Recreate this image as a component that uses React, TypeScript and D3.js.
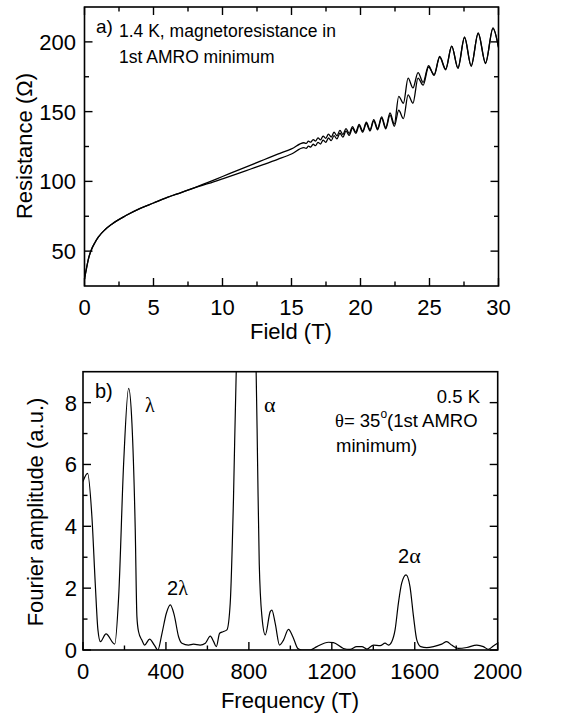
import React from 'react';
import * as d3 from 'd3';

// ---------- Panel a) magnetoresistance ----------
const baseField = [0, 0.15, 0.3, 0.5, 0.75, 1, 1.5, 2, 3, 4, 5, 6, 7, 8];
const baseRes = [30, 38, 45, 51, 56, 60, 65.5, 69.5, 75.5, 80.5, 84.5, 88.5, 92, 95.5];

const midField = [9, 10, 11, 12, 13, 14, 15];
const upMidRes = [99.5, 103.5, 107.5, 111.5, 115.5, 119.5, 123.3];
const downMidRes = [98.5, 101.8, 105.2, 108.7, 112.2, 115.8, 119.6];

const oscField = [15.90, 16.06, 16.23, 16.39, 16.57, 16.74, 16.92, 17.10, 17.29, 17.48, 17.68, 17.88, 18.08, 18.29, 18.51, 18.73, 18.95, 19.18, 19.42, 19.66, 19.90, 20.16, 20.42, 20.69, 20.96, 21.24, 21.53, 21.83, 22.14, 22.45, 22.77, 23.11, 23.45, 23.80, 24.17, 24.54, 24.93, 25.33, 25.74, 26.17, 26.61, 27.06, 27.54, 28.02, 28.53, 29.06, 29.60, 30.0];
const upOscRes = [127.7, 127.2, 128.8, 128.1, 130.0, 128.9, 131.2, 129.8, 132.5, 130.8, 133.8, 131.8, 135.2, 132.7, 136.5, 133.6, 137.8, 134.4, 139.2, 135.3, 140.8, 136.2, 142.4, 137.1, 144.3, 137.9, 146.3, 138.6, 149.0, 141.0, 161, 156, 174, 167, 178, 171, 183, 176, 189, 180, 197, 181, 203, 182.5, 206.5, 184.5, 210, 196];
const downOscRes = [124.2, 123.7, 125.2, 124.6, 126.6, 125.6, 128.0, 126.8, 129.6, 128.0, 131.1, 129.2, 132.8, 130.4, 134.5, 131.7, 136.2, 133.0, 138.2, 134.4, 139.9, 135.3, 141.5, 136.2, 143.4, 137.0, 145.3, 137.7, 147.5, 139.5, 151, 145, 162, 156, 174, 169, 182, 176.5, 189.5, 180.5, 197, 181.5, 203.5, 183, 206, 185, 209.5, 196];

const fieldTicks = [0, 5, 10, 15, 20, 25, 30];
const fieldMinor = [2.5, 7.5, 12.5, 17.5, 22.5, 27.5];
const resTicks = [50, 100, 150, 200];
const resMinor = [75, 125, 175];

// ---------- Panel b) Fourier spectrum ----------
const freq = [0, 22, 43, 59, 72, 84, 111, 153, 172, 196, 220, 236, 252, 260, 268, 284, 297, 321, 344, 361, 381, 402, 421, 440, 461, 477, 509, 533, 565, 590, 614, 630, 643, 659, 675, 694, 710, 726, 739, 790, 835, 842, 850, 863, 879, 903, 911, 927, 948, 967, 991, 1012, 1036, 1055, 1096, 1128, 1184, 1208, 1256, 1288, 1320, 1345, 1369, 1401, 1433, 1457, 1473, 1489, 1505, 1521, 1537, 1558, 1577, 1594, 1610, 1629, 1658, 1690, 1730, 1754, 1778, 1810, 1851, 1899, 1931, 1955, 1979, 2000];
const amp = [5.45, 5.71, 4.31, 2.16, 0.65, 0.27, 0.52, 0.19, 1.73, 6.04, 8.46, 7.33, 3.88, 1.08, 0.59, 0.32, 0.16, 0.35, 0.16, 0.0, 0.54, 1.19, 1.46, 1.13, 0.43, 0.22, 0.16, 0.19, 0.16, 0.22, 0.45, 0.27, 0.11, 0.54, 0.59, 0.65, 1.51, 4.96, 9.0, 14, 9.0, 6.04, 2.8, 1.08, 0.49, 1.24, 1.29, 0.86, 0.16, 0.32, 0.67, 0.43, 0.05, 0.0, 0.0, 0.11, 0.25, 0.24, 0.05, 0.02, 0.11, 0.11, 0.03, 0.16, 0.14, 0.22, 0.16, 0.27, 0.65, 1.51, 2.16, 2.43, 2.05, 1.08, 0.32, 0.11, 0.08, 0.11, 0.19, 0.27, 0.16, 0.05, 0.08, 0.16, 0.11, 0.02, 0.13, 0.22];

const freqTicks = [0, 400, 800, 1200, 1600, 2000];
const freqMinor = [200, 600, 1000, 1400, 1800];
const ampTicks = [0, 2, 4, 6, 8];
const ampMinor = [1, 3, 5, 7];

const SANS = '"Liberation Sans", Arial, sans-serif';
const SERIF = '"Liberation Serif", "DejaVu Serif", serif';

type Pt = [number, number];

function Frame({ x0, x1, y0, y1 }: { x0: number; x1: number; y0: number; y1: number }) {
  return <rect x={x0} y={y0} width={x1 - x0} height={y1 - y0} fill="none" stroke="#000" strokeWidth={1.6} />;
}

export default function App() {
  // Panel a
  const ax = d3.scaleLinear().domain([0, 30]).range([84.5, 498.5]);
  const ay = d3.scaleLinear().domain([25, 225]).range([286, 7]);
  const upPts: Pt[] = [
    ...baseField.map((f, i) => [f, baseRes[i]] as Pt),
    ...midField.map((f, i) => [f, upMidRes[i]] as Pt),
    ...oscField.map((f, i) => [f, upOscRes[i]] as Pt),
  ];
  const downPts: Pt[] = [
    ...baseField.map((f, i) => [f, baseRes[i]] as Pt),
    ...midField.map((f, i) => [f, downMidRes[i]] as Pt),
    ...oscField.map((f, i) => [f, downOscRes[i]] as Pt),
  ];
  const lineA = d3.line<Pt>().x(d => ax(d[0])).y(d => ay(d[1])).curve(d3.curveMonotoneX);

  // Panel b
  const bx = d3.scaleLinear().domain([0, 2000]).range([83, 497.7]);
  const by = d3.scaleLinear().domain([0, 9]).range([650, 371.7]);
  const fftPts: Pt[] = freq.map((f, i) => [f, amp[i]] as Pt);
  const lineB = d3.line<Pt>().x(d => bx(d[0])).y(d => by(d[1])).curve(d3.curveMonotoneX);

  const MAJ = 8;
  const MIN = 4.5;
  const tickStyle = { stroke: '#000', strokeWidth: 1.4 };

  return (
    <svg width={566} height={717} style={{ position: 'absolute', left: 0, top: 0, background: '#fff' }}>
      <rect x={0} y={0} width={566} height={717} fill="#fff" />
      <defs>
        <clipPath id="clipA">
          <rect x={ax(0)} y={ay(225)} width={ax(30) - ax(0)} height={ay(25) - ay(225)} />
        </clipPath>
        <clipPath id="clipB">
          <rect x={bx(0)} y={by(9)} width={bx(2000) - bx(0)} height={by(0) - by(9)} />
        </clipPath>
      </defs>

      {/* ---------- Panel a ---------- */}
      <g clipPath="url(#clipA)">
        <path d={lineA(downPts) || ''} fill="none" stroke="#000" strokeWidth={1.3} />
        <path d={lineA(upPts) || ''} fill="none" stroke="#000" strokeWidth={1.3} />
      </g>
      <Frame x0={ax(0)} x1={ax(30)} y0={ay(225)} y1={ay(25)} />
      {fieldTicks.map(t => (
        <g key={'fx' + t}>
          <line x1={ax(t)} x2={ax(t)} y1={ay(25)} y2={ay(25) - MAJ} {...tickStyle} />
          <line x1={ax(t)} x2={ax(t)} y1={ay(225)} y2={ay(225) + MAJ} {...tickStyle} />
          <text x={ax(t)} y={315} textAnchor="middle" fontFamily={SANS} fontSize={22}>{t}</text>
        </g>
      ))}
      {fieldMinor.map(t => (
        <g key={'fm' + t}>
          <line x1={ax(t)} x2={ax(t)} y1={ay(25)} y2={ay(25) - MIN} {...tickStyle} />
          <line x1={ax(t)} x2={ax(t)} y1={ay(225)} y2={ay(225) + MIN} {...tickStyle} />
        </g>
      ))}
      {resTicks.map(t => (
        <g key={'ry' + t}>
          <line x1={ax(0)} x2={ax(0) + MAJ} y1={ay(t)} y2={ay(t)} {...tickStyle} />
          <line x1={ax(30)} x2={ax(30) - MAJ} y1={ay(t)} y2={ay(t)} {...tickStyle} />
          <text x={76} y={ay(t) + 8} textAnchor="end" fontFamily={SANS} fontSize={22}>{t}</text>
        </g>
      ))}
      {resMinor.map(t => (
        <g key={'rm' + t}>
          <line x1={ax(0)} x2={ax(0) + MIN} y1={ay(t)} y2={ay(t)} {...tickStyle} />
          <line x1={ax(30)} x2={ax(30) - MIN} y1={ay(t)} y2={ay(t)} {...tickStyle} />
        </g>
      ))}
      <text x={291} y={339} textAnchor="middle" fontFamily={SANS} fontSize={22}>Field (T)</text>
      <text transform={`translate(32,146) rotate(-90)`} textAnchor="middle" fontFamily={SANS} fontSize={22}>Resistance (Ω)</text>
      <text x={96} y={33} fontFamily={SANS} fontSize={19}>a)</text>
      <text x={119} y={37} fontFamily={SANS} fontSize={17.5}>1.4 K, magnetoresistance in</text>
      <text x={119} y={63} fontFamily={SANS} fontSize={17.5}>1st AMRO minimum</text>

      {/* ---------- Panel b ---------- */}
      <g clipPath="url(#clipB)">
        <path d={lineB(fftPts) || ''} fill="none" stroke="#000" strokeWidth={1.2} />
      </g>
      <Frame x0={bx(0)} x1={bx(2000)} y0={by(9)} y1={by(0)} />
      {freqTicks.map(t => (
        <g key={'bx' + t}>
          <line x1={bx(t)} x2={bx(t)} y1={by(0)} y2={by(0) - MAJ} {...tickStyle} />
          <text x={bx(t)} y={679} textAnchor="middle" fontFamily={SANS} fontSize={22}>{t}</text>
        </g>
      ))}
      {freqMinor.map(t => (
        <line key={'bm' + t} x1={bx(t)} x2={bx(t)} y1={by(0)} y2={by(0) - MIN} {...tickStyle} />
      ))}
      {ampTicks.map(t => (
        <g key={'by' + t}>
          <line x1={bx(0)} x2={bx(0) + MAJ} y1={by(t)} y2={by(t)} {...tickStyle} />
          <line x1={bx(2000)} x2={bx(2000) - MAJ} y1={by(t)} y2={by(t)} {...tickStyle} />
          <text x={77} y={by(t) + 8} textAnchor="end" fontFamily={SANS} fontSize={22}>{t}</text>
        </g>
      ))}
      {ampMinor.map(t => (
        <g key={'bym' + t}>
          <line x1={bx(0)} x2={bx(0) + MIN} y1={by(t)} y2={by(t)} {...tickStyle} />
          <line x1={bx(2000)} x2={bx(2000) - MIN} y1={by(t)} y2={by(t)} {...tickStyle} />
        </g>
      ))}
      <text x={290} y={708} textAnchor="middle" fontFamily={SANS} fontSize={22}>Frequency (T)</text>
      <text transform={`translate(43,512) rotate(-90)`} textAnchor="middle" fontFamily={SANS} fontSize={22}>Fourier amplitude (a.u.)</text>
      <text x={95} y={398} fontFamily={SANS} fontSize={20}>b)</text>
      <text x={145} y={412} fontFamily={SERIF} fontSize={20}>λ</text>
      <text x={264} y={412} fontFamily={SERIF} fontSize={22}>α</text>
      <text x={167} y={595} fontFamily={SANS} fontSize={20}>2<tspan fontFamily={SERIF}>λ</tspan></text>
      <text x={398} y={563} fontFamily={SANS} fontSize={20}>2<tspan fontFamily={SERIF} fontSize={22}>α</tspan></text>
      <text x={480} y={403} textAnchor="end" fontFamily={SANS} fontSize={18.5}>0.5 K</text>
      <text x={335} y={427} fontFamily={SANS} fontSize={18.5}>
        <tspan fontFamily={SERIF}>θ</tspan>= 35<tspan dy={-9} fontSize={12}>o</tspan><tspan dy={9}>(1st AMRO</tspan>
      </text>
      <text x={336} y={452} fontFamily={SANS} fontSize={18.5}>minimum)</text>
    </svg>
  );
}
